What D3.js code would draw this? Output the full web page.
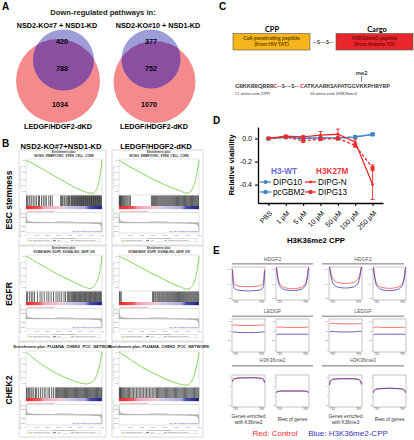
<!DOCTYPE html>
<html><head><meta charset="utf-8">
<script src="https://cdn.jsdelivr.net/npm/d3@7"></script>
<style>body{margin:0;background:#fff} svg{display:block;font-family:"Liberation Sans",Arial,sans-serif}</style>
</head><body><svg id="c" width="414" height="440"></svg>
<script>
// ================= DATA =================
// Panel A – Venn counts
const vennTitle = "Down-regulated pathways in:";
const vennTopSets = ["NSD2-KO#7 + NSD1-KD", "NSD2-KO#10 + NSD1-KD"];
const vennBottomSet = "LEDGF/HDGF2-dKD";
const vennOnlyTop = [420, 377];
const vennOverlap = [788, 752];
const vennOnlyBottom = [1034, 1070];

// Panel B – GSEA
const gseaColumns = ["NSD2-KO#7+NSD1-KD", "LEDGF/HDGF2-dKD"];
const gseaRows = ["ESC stemness", "EGFR", "CHEK2"];
const gseaSets = ["WONG_EMBRYONIC_STEM_CELL_CORE", "KOBAYASHI_EGFR_SIGNALING_24HR_DN", "PUJANA_CHEK2_PCC_NETWORK"];
const esRank = [0,0.05,0.1,0.2,0.3,0.4,0.5,0.6,0.7,0.78,0.84,0.88,0.92,0.95,0.97,0.99,1];
const esB1L = [0,-0.03,-0.06,-0.13,-0.2,-0.27,-0.34,-0.41,-0.47,-0.51,-0.53,-0.53,-0.49,-0.4,-0.28,-0.1,0];
const esB1R = [0,-0.04,-0.08,-0.15,-0.22,-0.29,-0.35,-0.41,-0.46,-0.5,-0.53,-0.52,-0.45,-0.35,-0.24,-0.08,0];
const esB2L = [0,-0.03,-0.07,-0.14,-0.21,-0.28,-0.34,-0.4,-0.46,-0.5,-0.52,-0.5,-0.44,-0.35,-0.25,-0.1,0];
const esB2R = [0,-0.03,-0.06,-0.13,-0.2,-0.27,-0.33,-0.4,-0.46,-0.5,-0.53,-0.52,-0.47,-0.38,-0.27,-0.1,0];
const esB3L = [0,-0.05,-0.1,-0.19,-0.27,-0.34,-0.4,-0.45,-0.49,-0.51,-0.5,-0.47,-0.4,-0.3,-0.2,-0.07,0];
const esB3R = [0,-0.04,-0.08,-0.17,-0.25,-0.32,-0.38,-0.44,-0.49,-0.52,-0.53,-0.51,-0.44,-0.33,-0.22,-0.08,0];
const hitsB1L = [6,18,40,52,75,96,118,140,165,178,205,228,250,268,300,322,345,455,468,482,500,512,530,548,560,572,590,600,610,620,630,640,648,658,668,676,686,695,705,714,722,731,740,749,757,766,775,784,792,801,810,819,828,836,845,854,862,871,880,888,897,906,914,923,932,940,949,958,966,975,984,992];
const hitsB1R = [3,10,18,26,34,45,58,70,85,98,112,128,142,405,418,430,442,455,466,478,490,502,515,527,540,552,564,576,588,600,612,624,636,648,660,672,684,696,708,720,731,742,753,764,775,786,797,808,819,830,841,852,863,874,885,896,907,918,929,940,951,962,973,984,995];
const hitsB2L = [8,22,48,70,90,112,150,185,210,240,275,300,330,362,395,420,445,470,500,520,545,560,575,590,602,614,626,638,650,661,672,683,694,705,716,727,738,749,760,771,782,793,804,815,826,837,848,859,870,881,892,903,914,925,936,947,958,969,980,991];
const hitsB2R = [5,15,28,420,432,448,460,475,488,500,512,525,538,550,562,575,588,600,612,624,636,648,660,672,684,696,708,720,732,744,756,768,780,792,804,816,828,840,852,864,876,888,900,912,924,936,948,960,972,984,996];
const hitsB3L = [5,15,32,48,66,80,102,125,140,165,190,215,240,262,290,310,338,360,385,400,412,424,436,448,460,472,484,496,508,520,532,544,556,568,580,592,604,616,628,640,652,664,676,688,700,712,724,736,748,760,772,784,796,808,820,832,844,856,868,880,892,904,916,928,940,952,964,976,988,998];
const hitsB3R = [4,12,20,30,40,52,64,76,90,104,118,132,148,165,182,200,218,236,254,272,290,308,326,344,362,380,398,416,434,452,468,482,496,510,524,538,552,566,580,594,608,622,636,650,664,678,692,706,720,734,748,762,776,790,804,818,832,846,860,874,888,902,916,930,944,958,972,986,998];
const metricRank = [0,0.005,0.02,0.06,0.2,0.5,0.8,0.94,0.98,0.995,1];
const metricVal = [1,0.45,0.2,0.1,0.05,0,-0.05,-0.1,-0.2,-0.5,-1];
const esTicks = [0,-0.1,-0.2,-0.3,-0.4,-0.5];
const rankTicks = ["0","1000","2000","3000","4000","5000","6000","7000"];

// Panel C – peptide
const cppSeq = "GRKKRRQRRR";
const linkerSeq = "--S---S--";
const cargoSeq = "ATKAARKSAPATGGVKKPHRYRP";

// Panel D – viability
const doses = ["PBS","1 µM","5 µM","10 µM","50 µM","100 µM","250 µM"];
const dipg10 = [0,0.01,0.0,0.005,0.005,0.012,0.037];
const dipg10Err = [0,0.006,0.005,0.006,0.006,0.006,0.01];
const pcgbm2 = [0,0.01,0.005,0.005,0.0,0.015,0.035];
const pcgbm2Err = [0,0.006,0.005,0.006,0.006,0.006,0.01];
const dipgN = [0,0.02,0.015,0.03,0.037,-0.03,-0.40];
const dipgNErr = [0,0.01,0.012,0.03,0.045,0.025,0.13];
const dipg13 = [0,0.015,-0.02,-0.005,0.0,-0.06,-0.255];
const dipg13Err = [0,0.01,0.01,0.01,0.01,0.015,0.025];
const yTicksD = [0, -0.2, -0.4];

// Panel E – metaplots (fraction of the y range, TSS -> TES)
const profX = [0,0.02,0.06,0.15,0.3,0.5,0.7,0.85,0.94,0.98,1];
const hdgf2_me2_red  = [0.95,0.66,0.5,0.44,0.42,0.41,0.42,0.44,0.5,0.66,0.95];
const hdgf2_me2_blue = [0.9,0.52,0.36,0.31,0.29,0.28,0.29,0.31,0.36,0.52,0.9];
const hdgf2_rest2_red  = [1.0,0.85,0.62,0.44,0.37,0.35,0.37,0.44,0.62,0.85,1.0];
const hdgf2_rest2_blue = [1.0,0.82,0.56,0.38,0.31,0.29,0.31,0.38,0.56,0.82,1.0];
const hdgf2_me3_red  = [1.05,0.95,0.78,0.6,0.53,0.51,0.53,0.6,0.78,0.95,1.05];
const hdgf2_me3_blue = [1.05,0.9,0.68,0.46,0.39,0.37,0.39,0.46,0.68,0.9,1.05];
const hdgf2_rest3_red  = [1.0,0.85,0.62,0.45,0.38,0.36,0.38,0.45,0.62,0.85,1.0];
const hdgf2_rest3_blue = [1.0,0.82,0.56,0.38,0.31,0.29,0.31,0.38,0.56,0.82,1.0];
const ledgf_me2_red  = [0.8,0.83,0.84,0.83,0.82,0.82,0.82,0.83,0.84,0.84,0.82];
const ledgf_me2_blue = [0.6,0.62,0.62,0.61,0.6,0.6,0.6,0.61,0.62,0.62,0.6];
const ledgf_rest2_red  = [0.74,0.76,0.77,0.77,0.76,0.76,0.76,0.76,0.77,0.76,0.74];
const ledgf_rest2_blue = [0.52,0.54,0.55,0.55,0.55,0.55,0.55,0.55,0.55,0.54,0.52];
const ledgf_me3_red  = [0.86,0.88,0.89,0.88,0.87,0.87,0.87,0.87,0.88,0.88,0.86];
const ledgf_me3_blue = [0.62,0.63,0.64,0.63,0.62,0.62,0.62,0.63,0.64,0.63,0.62];
const ledgf_rest3_red  = [0.74,0.76,0.77,0.77,0.76,0.76,0.76,0.76,0.77,0.76,0.74];
const ledgf_rest3_blue = [0.52,0.54,0.55,0.55,0.55,0.55,0.55,0.55,0.55,0.54,0.52];
const k36me2_me2_red  = [0.82,0.88,0.9,0.92,0.93,0.935,0.93,0.92,0.9,0.86,0.78];
const k36me2_me2_blue = [0.81,0.87,0.9,0.92,0.93,0.93,0.93,0.92,0.9,0.86,0.77];
const k36me2_rest_red  = [0.45,0.49,0.5,0.51,0.51,0.51,0.51,0.51,0.5,0.49,0.45];
const k36me2_rest_blue = [0.45,0.49,0.5,0.51,0.51,0.51,0.51,0.51,0.5,0.49,0.45];
const k36me3_me3_red  = [0.7,0.8,0.86,0.89,0.9,0.9,0.9,0.89,0.86,0.8,0.72];
const k36me3_me3_blue = [0.7,0.8,0.86,0.89,0.9,0.9,0.9,0.89,0.86,0.8,0.72];
const k36me3_rest_red  = [0.46,0.52,0.56,0.58,0.59,0.6,0.59,0.58,0.56,0.52,0.46];
const k36me3_rest_blue = [0.46,0.52,0.56,0.58,0.59,0.6,0.59,0.58,0.56,0.52,0.46];
const eHeadsLeft = ["HDGF2","LEDGF","H3K36me2"];
const eHeadsRight = ["HDGF2","LEDGF","H3K36me3"];
const eCaptions = [["Genes enriched","with K36me2"],["Rest of genes"],["Genes enriched","with K36me3"],["Rest of genes"]];

// ================= DRAW =================
const svg = d3.select("#c");
svg.append("rect").attr("width",414).attr("height",440).attr("fill","#fff");
function txt(g,x,y,s,o={}){
  const t=g.append("text").attr("x",x).attr("y",y).text(s)
    .attr("font-size",o.size||8).attr("text-anchor",o.anchor||"start").attr("fill",o.fill||"#000");
  if(o.bold) t.attr("font-weight","bold");
  if(o.family) t.attr("font-family",o.family);
  if(o.rotate!=null) t.attr("transform",`rotate(${o.rotate},${x},${y})`);
  return t;
}
// panel letters
[["A",2,10],["B",2,147],["C",219,10],["D",213,124],["E",213,254]].forEach(d=>txt(svg,d[1],d[2],d[0],{size:10,bold:true}));

// ---------- Panel A ----------
const gA = svg.append("g");
txt(gA,103,15,vennTitle,{size:7.6,anchor:"middle",bold:true,fill:"#222"});
const vennGeo = [{bx:63.5,by:60,br:30.5,rx:58,ry:81,rr:42,lx:57,nx:62},{bx:151,by:59,br:29.5,rx:154.5,ry:82,rr:41,lx:158,nx:151}];
vennGeo.forEach((v,i)=>{
  txt(gA,v.lx,27.5,vennTopSets[i],{size:7.2,anchor:"middle",bold:true});
  gA.append("circle").attr("cx",v.rx).attr("cy",v.ry).attr("r",v.rr).attr("fill","#f48a8c");
  gA.append("circle").attr("cx",v.bx).attr("cy",v.by).attr("r",v.br).attr("fill","#9d9dd8");
  const cid="clipV"+i;
  gA.append("clipPath").attr("id",cid).append("circle").attr("cx",v.bx).attr("cy",v.by).attr("r",v.br);
  gA.append("circle").attr("cx",v.rx).attr("cy",v.ry).attr("r",v.rr).attr("fill","#8a4f9f").attr("clip-path",`url(#${cid})`);
  txt(gA,v.nx,43.5,vennOnlyTop[i],{size:7.2,anchor:"middle",bold:true});
  txt(gA,v.nx,70.5,vennOverlap[i],{size:7.2,anchor:"middle",bold:true});
  txt(gA,v.nx-2,106.5,vennOnlyBottom[i],{size:7.2,anchor:"middle",bold:true});
  txt(gA,v.lx+(i?-4:1),129,vennBottomSet,{size:7.2,anchor:"middle",bold:true});
});

// ---------- Panel B ----------
const gB = svg.append("g");
const colX = [{x:19,w:87,t:61},{x:112,w:91,t:156}];
const rowY = [150,246,342];
const esData = [[esB1L,esB1R],[esB2L,esB2R],[esB3L,esB3R]];
const hitData = [[hitsB1L,hitsB1R],[hitsB2L,hitsB2R],[hitsB3L,hitsB3R]];
colX.forEach((c,i)=>txt(gB,c.t,148.5,gseaColumns[i],{size:7.6,anchor:"middle",bold:true}));
const rowLabY=[200,294,390];
gseaRows.forEach((r,i)=>txt(gB,12,rowLabY[i],r,{size:8.5,anchor:"middle",bold:true,rotate:-90}));
const defs = svg.append("defs");
const grad = defs.append("linearGradient").attr("id","rankGrad");
[[0,"#e8262a"],[0.18,"#ef5a5a"],[0.24,"#f4a5bd"],[0.48,"#f4c8d8"],[0.52,"#cfd0ee"],[0.78,"#a8a8dc"],[0.84,"#4a4ab0"],[1,"#20208a"]]
  .forEach(s=>grad.append("stop").attr("offset",s[0]).attr("stop-color",s[1]));

function gsea(g,x0,y0,w,h,ri,ci){
  g.append("rect").attr("x",x0).attr("y",y0).attr("width",w).attr("height",h).attr("fill","#fff").attr("stroke","#cfcfcf").attr("stroke-width",0.8);
  const px0=x0+7, px1=x0+w-4;
  const xs=d3.scaleLinear().domain([0,1]).range([px0,px1]);
  const cx=(px0+px1)/2;
  if(ri<2){
    txt(g,cx,y0+3.4,"Enrichment plot:",{size:3,anchor:"middle",bold:true,fill:"#333"});
    txt(g,cx,y0+6.6,gseaSets[ri],{size:3,anchor:"middle",bold:true,fill:"#333"});
  } else {
    txt(g,cx,y0+5.5,"Enrichment plot: "+gseaSets[ri],{size:4.1,anchor:"middle",bold:true,fill:"#222"});
  }
  const yTop=y0+9, yBot=y0+45;
  const ys=d3.scaleLinear().domain([-0.56,0.02]).range([yBot,yTop]);
  g.append("rect").attr("x",px0).attr("y",yTop).attr("width",px1-px0).attr("height",yBot-yTop).attr("fill","none").attr("stroke","#bbb").attr("stroke-width",0.4);
  esTicks.forEach(t=>txt(g,px0-1,ys(t)+0.8,t.toFixed(1),{size:2.3,anchor:"end",fill:"#777"}));
  txt(g,x0+2.2,(yTop+yBot)/2,"Enrichment score (ES)",{size:2.2,anchor:"middle",fill:"#777",rotate:-90});
  const es=esData[ri][ci];
  g.append("path").attr("d",d3.line().x((d,i)=>xs(esRank[i])).y(d=>ys(d)).curve(d3.curveMonotoneX)(es))
    .attr("fill","none").attr("stroke","#78d048").attr("stroke-width",0.9);
  const bTop=yBot+0.5, bBot=y0+56;
  hitData[ri][ci].forEach(hh=>g.append("line").attr("x1",xs(hh/1000)).attr("x2",xs(hh/1000)).attr("y1",bTop).attr("y2",bBot).attr("stroke","#111").attr("stroke-width",0.65));
  g.append("rect").attr("x",px0).attr("y",y0+56).attr("width",px1-px0).attr("height",3.2).attr("fill","url(#rankGrad)");
  txt(g,px0+1,y0+61.6,"'na_pos' (positively correlated)",{size:2.1,fill:"#e03030"});
  const mTop=y0+62.5, mBot=y0+83;
  const ym=d3.scaleLinear().domain([-1,1]).range([mBot,mTop]);
  g.append("rect").attr("x",px0).attr("y",mTop).attr("width",px1-px0).attr("height",mBot-mTop).attr("fill","none").attr("stroke","#bbb").attr("stroke-width",0.4);
  g.append("path").attr("d",d3.area().x((d,i)=>xs(metricRank[i])).y0(ym(0)).y1(d=>ym(d*0.9))(metricVal)).attr("fill","#b8b8b8").attr("stroke","#999").attr("stroke-width",0.3);
  g.append("line").attr("x1",px0).attr("x2",px1).attr("y1",ym(0)).attr("y2",ym(0)).attr("stroke","#999").attr("stroke-width",0.3);
  ["0.50","0.25","0","-0.25","-0.50"].forEach((t,k)=>txt(g,px0-1,mTop+1.5+k*4.4,t,{size:2.1,anchor:"end",fill:"#777"}));
  txt(g,x0+2.2,(mTop+mBot)/2,"Ranked list metric (Signal2Noise)",{size:2,anchor:"middle",fill:"#777",rotate:-90});
  txt(g,cx,ym(0)-0.8,"Zero cross at 4571",{size:2.1,anchor:"middle",fill:"#777"});
  txt(g,px1-1,mBot-1,"'na_neg' (negatively correlated)",{size:2.1,anchor:"end",fill:"#3030c0"});
  rankTicks.forEach((t,k)=>txt(g,xs(k/7),mBot+3,t,{size:2.1,anchor:"middle",fill:"#777"}));
  txt(g,cx,mBot+5.8,"Rank in ordered dataset",{size:2.3,anchor:"middle",fill:"#777"});
  const lY=y0+h-4.5;
  g.append("rect").attr("x",px0+2).attr("y",lY-1.8).attr("width",px1-px0-4).attr("height",3.2).attr("fill","none").attr("stroke","#aaa").attr("stroke-width",0.3);
  g.append("line").attr("x1",px0+3).attr("x2",px0+6).attr("y1",lY).attr("y2",lY).attr("stroke","#78d048").attr("stroke-width",0.6);
  txt(g,px0+7,lY+0.8,"Enrichment profile",{size:2.1,fill:"#666"});
  g.append("line").attr("x1",px0+27).attr("x2",px0+30).attr("y1",lY).attr("y2",lY).attr("stroke","#111").attr("stroke-width",0.5);
  txt(g,px0+31,lY+0.8,"Hits",{size:2.1,fill:"#666"});
  g.append("line").attr("x1",px0+45).attr("x2",px0+48).attr("y1",lY).attr("y2",lY).attr("stroke","#aaa").attr("stroke-width",0.8);
  txt(g,px0+49,lY+0.8,"Ranking metric scores",{size:2.1,fill:"#666"});
}
rowY.forEach((y,ri)=>colX.forEach((c,ci)=>gsea(gB,c.x,y,c.w,95,ri,ci)));

// ---------- Panel C ----------
const gC = svg.append("g");
const LF = "Lato, 'Open Sans', sans-serif";
txt(gC,272,32,"CPP",{size:7.5,anchor:"middle",bold:true,family:LF});
txt(gC,377,32,"Cargo",{size:7.5,anchor:"middle",bold:true,family:LF});
gC.append("rect").attr("x",233).attr("y",33.5).attr("width",77).attr("height",16.5).attr("fill","#f6b51a").attr("stroke","#555").attr("stroke-width",0.6);
txt(gC,271.5,40,"Cell-penetrating peptide",{size:5.2,anchor:"middle",bold:true,fill:"#6a4300",family:LF});
txt(gC,271.5,46,"(from HIV TAT)",{size:5.2,anchor:"middle",bold:true,fill:"#6a4300",family:LF});
txt(gC,323,44,linkerSeq,{size:5.5,anchor:"middle",bold:true,fill:"#333",family:LF});
gC.append("rect").attr("x",336).attr("y",33.5).attr("width",77).attr("height",16.5).attr("fill","#e8262b").attr("stroke","#555").attr("stroke-width",0.6);
txt(gC,374.5,40,"H3K36me2 peptide",{size:5.2,anchor:"middle",bold:true,fill:"#7a0a0a",family:LF});
txt(gC,374.5,46,"(from histone H3)",{size:5.2,anchor:"middle",bold:true,fill:"#7a0a0a",family:LF});
// sequence as one text with coloured tspans, font sized to the target width
const seqT = gC.append("text").attr("x",235).attr("y",87.5).attr("font-size",6.3).attr("font-family",LF).attr("font-weight","bold").attr("fill","#333");
seqT.append("tspan").text(cppSeq);
seqT.append("tspan").text("C").attr("fill","#e82020");
seqT.append("tspan").text(linkerSeq+" ");
seqT.append("tspan").text("C").attr("fill","#e82020");
seqT.append("tspan").text(cargoSeq);
let seqLen = 150;
try { seqLen = seqT.node().getComputedTextLength(); } catch(e){}
const seqFs = Math.min(7, 6.3*155/seqLen);
seqT.attr("font-size",seqFs);
const fullSeq = cppSeq+"C"+linkerSeq+" C"+cargoSeq;
const kIdx = fullSeq.indexOf("GGVK")+3;
let kx = 362;
try { const p=seqT.node().getStartPositionOfChar(kIdx); const e=seqT.node().getEndPositionOfChar(kIdx); kx=(p.x+e.x)/2; } catch(e){}
txt(gC,kx,74.5,"me2",{size:6,anchor:"middle",bold:true,fill:"#333",family:LF});
gC.append("line").attr("x1",kx).attr("x2",kx).attr("y1",76).attr("y2",81.5).attr("stroke","#333").attr("stroke-width",0.6);
txt(gC,235,95,"11 amino acids (CPP)",{size:3.8,fill:"#444",family:LF});
txt(gC,310,95,"24 amino acids (H3K36me2)",{size:3.8,fill:"#444",family:LF});

// ---------- Panel D ----------
const gD = svg.append("g");
const xD = d3.scalePoint().domain(doses).range([258,383]).padding(0.6);
const yD = d3.scaleLinear().domain([-0.56,0.1]).range([203,127]);
const axY = gD.append("g").attr("transform","translate(258,0)").call(d3.axisLeft(yD).tickValues(yTicksD).tickFormat(d=>d===0?"0.0":"-"+Math.abs(d).toFixed(1)).tickSize(3).tickSizeOuter(0));
const axX = gD.append("g").attr("transform","translate(0,203)").call(d3.axisBottom(xD).tickSize(3).tickSizeOuter(0));
[axY,axX].forEach(a=>{a.select(".domain").attr("stroke-width",1.3);a.selectAll(".tick line").attr("stroke-width",1.1);a.selectAll("text").attr("font-size",7).attr("font-family","Liberation Sans, Arial");});
axX.selectAll(".tick text").attr("text-anchor","end").attr("transform","translate(-3,4) rotate(-45)").attr("dy","0.5em");
txt(gD,234,165,"Relative viability",{size:7.8,anchor:"middle",bold:true,rotate:-90});
txt(gD,316,243,"H3K36me2 CPP",{size:7.8,anchor:"middle",bold:true});
const blue="#3d84c8", red="#ee2a2a";
const series=[
  {v:dipg10,e:dipg10Err,c:blue,dash:null,m:"circle",name:"DIPG10"},
  {v:pcgbm2,e:pcgbm2Err,c:blue,dash:"3,2",m:"square",name:"pcGBM2"},
  {v:dipgN,e:dipgNErr,c:red,dash:null,m:"dot",name:"DIPG-N"},
  {v:dipg13,e:dipg13Err,c:red,dash:"3,2",m:"square",name:"DIPG13"}];
function marker(g,x,y,m,c){
  if(m==="square") g.append("rect").attr("x",x-1.9).attr("y",y-1.9).attr("width",3.8).attr("height",3.8).attr("fill",c);
  else g.append("circle").attr("cx",x).attr("cy",y).attr("r",m==="dot"?1.4:2).attr("fill",c);
}
series.forEach(s=>{
  gD.append("path").attr("d",d3.line().x((d,i)=>xD(doses[i])).y(d=>yD(d))(s.v)).attr("fill","none").attr("stroke",s.c).attr("stroke-width",1.3).attr("stroke-dasharray",s.dash);
  s.v.forEach((d,i)=>{
    const x=xD(doses[i]);
    if(s.e[i]>0){
      gD.append("line").attr("x1",x).attr("x2",x).attr("y1",yD(d-s.e[i])).attr("y2",yD(d+s.e[i])).attr("stroke",s.c).attr("stroke-width",0.9);
      [d-s.e[i],d+s.e[i]].forEach(q=>gD.append("line").attr("x1",x-2).attr("x2",x+2).attr("y1",yD(q)).attr("y2",yD(q)).attr("stroke",s.c).attr("stroke-width",0.9));
    }
    marker(gD,x,yD(d),s.m,s.c);
  });
});
txt(gD,271,174,"H3-WT",{size:8.2,bold:true,fill:"#6767d4"});
txt(gD,316,174,"H3K27M",{size:8.2,bold:true,fill:"#ee3434"});
const legPos=[[260,182],[260,192],[305,182],[305,192]];
series.forEach((s,i)=>{
  const [lx,ly]=legPos[i];
  gD.append("line").attr("x1",lx).attr("x2",lx+11).attr("y1",ly).attr("y2",ly).attr("stroke",s.c).attr("stroke-width",1.3);
  marker(gD,lx+5.5,ly,s.m,s.c);
  txt(gD,lx+13,ly+3,s.name,{size:8.2});
});

// ---------- Panel E ----------
const gE = svg.append("g");
const eGroupX=[{x0:232,x1:313,plots:[232,276]},{x0:322,x1:404,plots:[329,373]}];
const eRow=[{head:261,bar:263,top:267,bot:300},{head:313,bar:315.5,top:319,bot:352},{head:361.5,bar:365,top:375,bot:407}];
const profData=[
  [[hdgf2_me2_red,hdgf2_me2_blue],[hdgf2_rest2_red,hdgf2_rest2_blue],[hdgf2_me3_red,hdgf2_me3_blue],[hdgf2_rest3_red,hdgf2_rest3_blue]],
  [[ledgf_me2_red,ledgf_me2_blue],[ledgf_rest2_red,ledgf_rest2_blue],[ledgf_me3_red,ledgf_me3_blue],[ledgf_rest3_red,ledgf_rest3_blue]],
  [[k36me2_me2_red,k36me2_me2_blue],[k36me2_rest_red,k36me2_rest_blue],[k36me3_me3_red,k36me3_me3_blue],[k36me3_rest_red,k36me3_rest_blue]]];
const yTickLab=[["0.6","0.4","0.2"],["60","40","20","0"],["8","6","4","2"]];
eRow.forEach((r,ri)=>{
  eGroupX.forEach((gx,gi)=>{
    txt(gE,(gx.x0+gx.x1)/2,r.head,(gi?eHeadsRight:eHeadsLeft)[ri],{size:5.2,anchor:"middle",fill:"#555"});
    gE.append("rect").attr("x",gx.x0).attr("y",r.bar).attr("width",gx.x1-gx.x0).attr("height",1.6).attr("fill","#a8a8a8");
    gx.plots.forEach((px,pi)=>{
      const w=33, idx=gi*2+pi;
      const xs=d3.scaleLinear().domain([0,1]).range([px+0.5,px+w-0.5]);
      const ys=d3.scaleLinear().domain([0,1.02]).range([r.bot,r.top]);
      const cid=`ce${ri}${idx}`;
      gE.append("clipPath").attr("id",cid).append("rect").attr("x",px).attr("y",r.top).attr("width",w).attr("height",r.bot-r.top);
      gE.append("rect").attr("x",px).attr("y",r.top).attr("width",w).attr("height",r.bot-r.top).attr("fill","#fff").attr("stroke","#8a8a8a").attr("stroke-width",0.5);
      const [rd,bl]=profData[ri][idx];
      const ln=d3.line().x((d,i)=>xs(profX[i])).y(d=>ys(d)).curve(d3.curveMonotoneX);
      gE.append("path").attr("d",ln(rd)).attr("fill","none").attr("stroke","#ff4a4a").attr("stroke-width",0.8).attr("clip-path",`url(#${cid})`);
      gE.append("path").attr("d",ln(bl)).attr("fill","none").attr("stroke","#3b3bb0").attr("stroke-width",0.8).attr("clip-path",`url(#${cid})`);
      const lab=yTickLab[ri];
      lab.forEach((t,k)=>txt(gE,px-1,r.top+3+k*(r.bot-r.top-4)/(lab.length-1),t,{size:2.4,anchor:"end",fill:"#666"}));
      txt(gE,px+1,r.bot+3.2,"TSS",{size:2.6,fill:"#555"});
      txt(gE,px+w-1,r.bot+3.2,"TES",{size:2.6,anchor:"end",fill:"#555"});
      if(ri===2){
        const cap=eCaptions[idx];
        if(cap.length===2){txt(gE,px+w/2,418,cap[0],{size:4.8,anchor:"middle",fill:"#333"});txt(gE,px+w/2,423.5,cap[1],{size:4.8,anchor:"middle",fill:"#333"});}
        else txt(gE,px+w/2,420.5,cap[0],{size:4.8,anchor:"middle",fill:"#333"});
      }
    });
  });
});
txt(gE,275,436,"Red: Control",{size:8,anchor:"middle",fill:"#ff2a2a"});
txt(gE,348,436,"Blue: H3K36me2-CPP",{size:8,anchor:"middle",fill:"#3535b5"});
</script></body></html>
